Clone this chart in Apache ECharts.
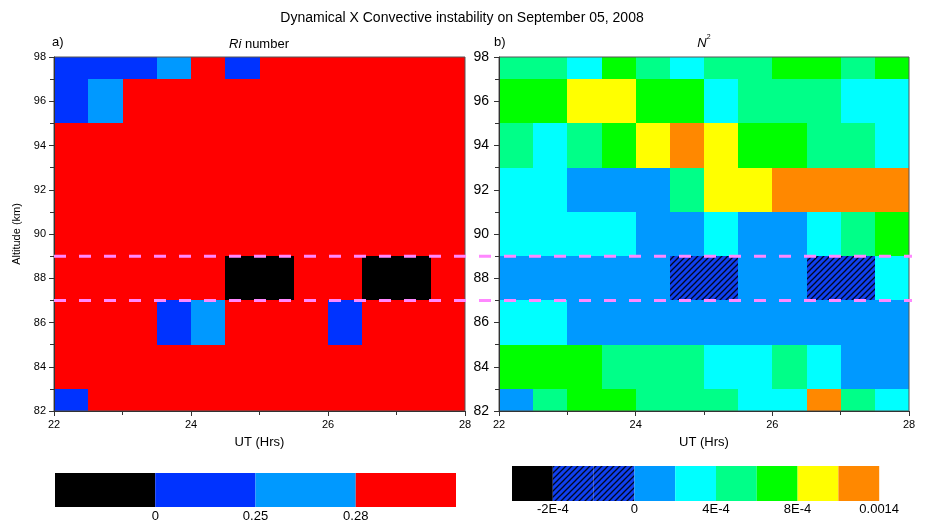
<!DOCTYPE html>
<html>
<head>
<meta charset="utf-8">
<script src="https://cdn.jsdelivr.net/npm/echarts@6/dist/echarts.min.js"></script>
<style>
  html, body { margin: 0; padding: 0; background: #fff; }
  #main { width: 925px; height: 523px; }
</style>
</head>
<body>
<div id="main"></div>
<script>
// UT start of each 0.5 h column
var utStarts = [22, 22.5, 23, 23.5, 24, 24.5, 25, 25.5, 26, 26.5, 27, 27.5];
// altitude (km) at the centre of each 2 km row, top to bottom
var altitudes = [98, 96, 94, 92, 90, 88, 86, 84, 82];

// Ri class per cell: 0 (<0), 1 (0-0.25), 2 (0.25-0.28), 3 (>0.28)
var riLevels = [
  [1, 1, 1, 2, 3, 1, 3, 3, 3, 3, 3, 3],
  [1, 2, 3, 3, 3, 3, 3, 3, 3, 3, 3, 3],
  [3, 3, 3, 3, 3, 3, 3, 3, 3, 3, 3, 3],
  [3, 3, 3, 3, 3, 3, 3, 3, 3, 3, 3, 3],
  [3, 3, 3, 3, 3, 3, 3, 3, 3, 3, 3, 3],
  [3, 3, 3, 3, 3, 0, 0, 3, 3, 0, 0, 3],
  [3, 3, 3, 1, 2, 3, 3, 3, 1, 3, 3, 3],
  [3, 3, 3, 3, 3, 3, 3, 3, 3, 3, 3, 3],
  [1, 3, 3, 3, 3, 3, 3, 3, 3, 3, 3, 3]
];

// N^2 class per cell (index into the colour bar below)
var n2Levels = [
  [5, 5, 4, 6, 5, 4, 5, 5, 6, 6, 5, 6],
  [6, 6, 7, 7, 6, 6, 4, 5, 5, 5, 4, 4],
  [5, 4, 5, 6, 7, 8, 7, 6, 6, 5, 5, 4],
  [4, 4, 3, 3, 3, 5, 7, 7, 8, 8, 8, 8],
  [4, 4, 4, 4, 3, 3, 4, 3, 3, 4, 5, 6],
  [3, 3, 3, 3, 3, 1, 1, 3, 3, 1, 1, 4],
  [4, 4, 3, 3, 3, 3, 3, 3, 3, 3, 3, 3],
  [6, 6, 6, 5, 5, 5, 4, 4, 5, 4, 3, 3],
  [3, 5, 6, 6, 5, 5, 5, 4, 4, 8, 5, 4]
];

var riBarLabels = ['0', '0.25', '0.28'];
var n2BarLabels = ['-2E-4', '0', '4E-4', '8E-4', '0.0014'];
var markAltitudes = [89, 87];

var FONT = '"Liberation Sans", Arial, sans-serif';

function makeHatch() {
  var c = document.createElement('canvas');
  c.width = 6; c.height = 6;
  var g = c.getContext('2d');
  g.fillStyle = '#1040f0';
  g.fillRect(0, 0, 6, 6);
  g.strokeStyle = '#000820';
  g.lineWidth = 1.3;
  g.beginPath();
  g.moveTo(-1, 7); g.lineTo(7, -1);
  g.moveTo(-1, 1); g.lineTo(1, -1);
  g.moveTo(5, 7); g.lineTo(7, 5);
  g.stroke();
  return { image: c, repeat: 'repeat' };
}
var hatch = makeHatch();

var riColors = ['#000000', '#0033ff', '#0099ff', '#ff0000'];
var n2Colors = ['#000000', hatch, hatch, '#0099ff', '#00ffff', '#00ff88', '#00ff00', '#ffff00', '#ff8800'];

function toCells(levels) {
  var out = [];
  levels.forEach(function (row, r) {
    row.forEach(function (lvl, c) {
      out.push([utStarts[c], altitudes[r], lvl]);
    });
  });
  return out;
}

function cellRenderer(colors) {
  return function (params, api) {
    var x0 = api.value(0), y = api.value(1), lvl = api.value(2);
    var a = api.coord([x0, y + 1]);
    var b = api.coord([x0 + 0.5, y - 1]);
    var ax = Math.round(a[0]), ay = Math.round(a[1]);
    var cs = params.coordSys;
    var shape = echarts.graphic.clipRectByRect(
      { x: ax, y: ay, width: Math.round(b[0]) - ax, height: Math.round(b[1]) - ay },
      { x: cs.x, y: cs.y, width: cs.width, height: cs.height }
    );
    return shape && { type: 'rect', shape: shape, style: { fill: colors[lvl] } };
  };
}

function xAxisCfg(gi) {
  return {
    type: 'value', gridIndex: gi, min: 22, max: 28, interval: 2, z: 10,
    name: 'UT (Hrs)', nameLocation: 'middle', nameGap: 25,
    nameTextStyle: { fontSize: 13, color: '#000', fontFamily: FONT },
    axisLine: { lineStyle: { color: '#333' } },
    axisTick: { inside: false, length: 5, lineStyle: { color: '#333' } },
    minorTick: { show: true, splitNumber: 2, length: 4, lineStyle: { color: '#333' } },
    axisLabel: { fontSize: 11, color: '#000', margin: 8, fontFamily: FONT },
    splitLine: { show: false }
  };
}

function yAxisCfg(gi, fs, margin) {
  return {
    type: 'value', gridIndex: gi, min: 82, max: 98, interval: 2, z: 10,
    axisLine: { lineStyle: { color: '#333' } },
    axisTick: { inside: false, length: 5, lineStyle: { color: '#333' } },
    minorTick: { show: true, splitNumber: 2, length: 4, lineStyle: { color: '#333' } },
    axisLabel: { fontSize: fs, color: '#000', margin: margin, fontFamily: FONT },
    splitLine: { show: false }
  };
}

var chart = echarts.init(document.getElementById('main'));
var yLeft = yAxisCfg(0, 11, 8);
yLeft.name = 'Altitude (km)';
yLeft.nameLocation = 'middle';
yLeft.nameGap = 32;
yLeft.nameTextStyle = { fontSize: 11, color: '#000', fontFamily: FONT };

chart.setOption({
  animation: false,
  backgroundColor: '#fff',
  grid: [
    { left: 54, top: 57, width: 411, height: 354, show: true, borderColor: '#555', borderWidth: 1, z: 5, backgroundColor: 'transparent' },
    { left: 499, top: 57, width: 410, height: 354, show: true, borderColor: '#555', borderWidth: 1, z: 5, backgroundColor: 'transparent' }
  ],
  xAxis: [xAxisCfg(0), xAxisCfg(1)],
  yAxis: [yLeft, yAxisCfg(1, 14, 10)],
  series: [
    { type: 'custom', xAxisIndex: 0, yAxisIndex: 0, silent: true, encode: { x: 0, y: 1 },
      renderItem: cellRenderer(riColors), data: toCells(riLevels) },
    { type: 'custom', xAxisIndex: 1, yAxisIndex: 1, silent: true, encode: { x: 0, y: 1 },
      renderItem: cellRenderer(n2Colors), data: toCells(n2Levels) }
  ]
});

// overlays: titles, colour bars, dashed marker lines
var g = [];
function txt(x, y, text, size, align, rich) {
  g.push({ type: 'text', silent: true, z: 100, x: x, y: y,
    style: { text: text, fontSize: size, fontFamily: FONT, fill: '#000',
      align: align || 'center', verticalAlign: 'middle', rich: rich } });
}
txt(462, 18, 'Dynamical X Convective instability on September 05, 2008', 14);
txt(52, 42, 'a)', 13, 'left');
txt(259, 44, '{i|Ri} number', 13, 'center', { i: { fontStyle: 'italic', fontSize: 13, fontFamily: FONT } });
txt(494, 42, 'b)', 13, 'left');
txt(704, 42, '{i|N}{s|2}', 13, 'center', {
  i: { fontStyle: 'italic', fontSize: 13, fontFamily: FONT, verticalAlign: 'bottom', lineHeight: 16 },
  s: { fontSize: 7, fontFamily: FONT, verticalAlign: 'top', lineHeight: 16 }
});

function colourBar(x0, y0, w, h, colors, labels, labelAt, labelY) {
  colors.forEach(function (c, i) {
    g.push({ type: 'rect', silent: true, z: 100,
      shape: { x: x0 + i * w, y: y0, width: w, height: h }, style: { fill: c } });
  });
  labels.forEach(function (t, i) {
    txt(x0 + labelAt[i] * w, labelY, t, 13);
  });
}
colourBar(55, 473, 100.25, 34, riColors, riBarLabels, [1, 2, 3], 516);
colourBar(512, 466, 40.8, 35, n2Colors, n2BarLabels, [1, 3, 5, 7, 9], 509);

var xl = chart.convertToPixel({ xAxisIndex: 0 }, 22);
var xr = chart.convertToPixel({ xAxisIndex: 1 }, 28);
markAltitudes.forEach(function (alt) {
  var py = chart.convertToPixel({ yAxisIndex: 0 }, alt);
  g.push({ type: 'line', silent: true, z: 120,
    shape: { x1: xl, y1: py, x2: xr + 3, y2: py },
    style: { stroke: '#ff88ff', lineWidth: 3, lineDash: [12, 13] } });
});

chart.setOption({ graphic: g });
</script>
</body>
</html>
